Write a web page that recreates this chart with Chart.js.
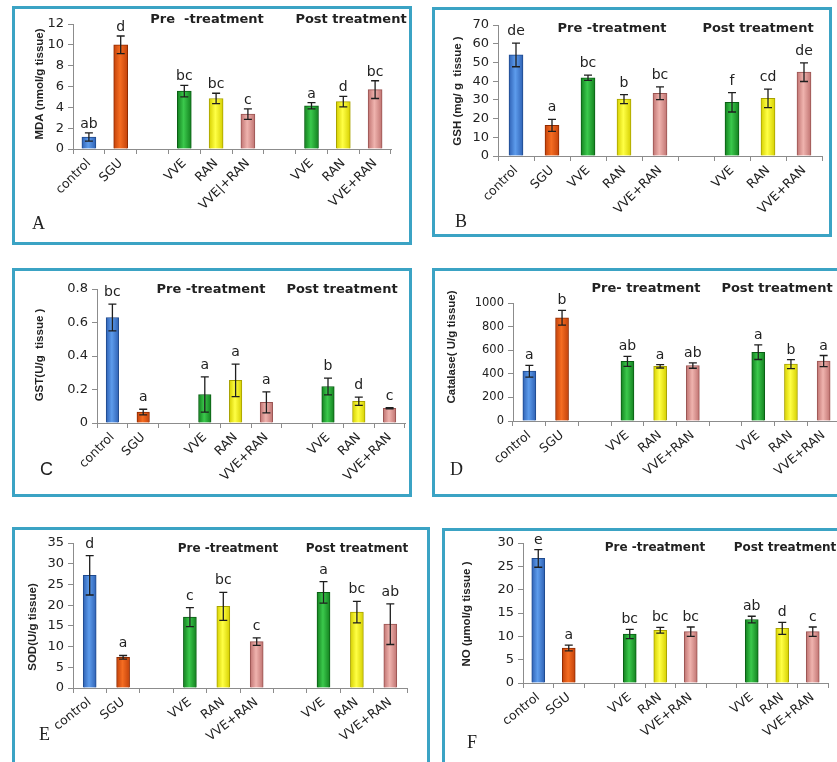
<!DOCTYPE html>
<html>
<head>
<meta charset="utf-8">
<script src="https://cdn.jsdelivr.net/npm/chart.js@4"></script>
<style>
  body { margin: 0; width: 837px; height: 762px; overflow: hidden; background: #fff; position: relative; }
  .box { position: absolute; border: 3px solid #3ba3c4; box-sizing: border-box; }
  canvas { position: absolute; }
</style>
</head>
<body>
<script>
// categories (empty strings are the gaps between groups)
const categories = ["control", "SGU", "", "VVE", "RAN", "VVE+RAN", "", "VVE", "RAN", "VVE+RAN"];
const categoriesA = ["control", "SGU", "", "VVE", "RAN", "VVE|+RAN", "", "VVE", "RAN", "VVE+RAN"];
const categoriesB = ["control", "SGU", "VVE", "RAN", "VVE+RAN", "", "VVE", "RAN", "VVE+RAN"];
const groups = ["control", "SGU", null, "VVE", "RAN", "MIX", null, "VVE", "RAN", "MIX"];
const groupsB = ["control", "SGU", "VVE", "RAN", "MIX", null, "VVE", "RAN", "MIX"];

// A - MDA
const mdaMean = [1.15, 10.0, null, 5.55, 4.85, 3.35, null, 4.15, 4.55, 5.7];
const mdaErr = [0.4, 0.85, null, 0.55, 0.5, 0.5, null, 0.3, 0.5, 0.85];
const mdaSig = ["ab", "d", "", "bc", "bc", "c", "", "a", "d", "bc"];
const mdaTicks = [0, 2, 4, 6, 8, 10, 12];

// B - GSH
const gshMean = [54, 16.4, 41.8, 30.4, 33.5, null, 28.7, 30.8, 44.8];
const gshErr = [6.3, 3.2, 1.4, 2.4, 3.4, null, 5.2, 4.9, 5];
const gshSig = ["de", "a", "bc", "b", "bc", "", "f", "cd", "de"];
const gshTicks = [0, 10, 20, 30, 40, 50, 60, 70];

// C - GST
const gstMean = [0.63, 0.065, null, 0.17, 0.255, 0.123, null, 0.218, 0.13, 0.088];
const gstErr = [0.08, 0.017, null, 0.105, 0.097, 0.063, null, 0.05, 0.025, 0.004];
const gstSig = ["bc", "a", "", "a", "a", "a", "", "b", "d", "c"];
const gstTicks = [0, 0.1, 0.2, 0.3, 0.4, 0.5, 0.6, 0.7, 0.8];

// D - Catalase
const catMean = [422, 875, null, 505, 463, 470, null, 583, 482, 508];
const catErr = [50, 63, null, 42, 14, 23, null, 62, 38, 47];
const catSig = ["a", "b", "", "ab", "a", "ab", "", "a", "b", "a"];
const catTicks = [0, 200, 400, 600, 800, 1000];

// E - SOD
const sodMean = [27.2, 7.4, null, 17.1, 19.7, 11.2, null, 23.1, 18.3, 15.4];
const sodErr = [4.75, 0.45, null, 2.3, 3.4, 0.9, null, 2.6, 2.6, 4.9];
const sodSig = ["d", "a", "", "c", "bc", "c", "", "a", "bc", "ab"];
const sodTicks = [0, 5, 10, 15, 20, 25, 30, 35];

// F - NO
const noMean = [26.7, 7.5, null, 10.5, 11.3, 11.0, null, 13.6, 11.7, 11.0];
const noErr = [1.9, 0.6, null, 1.0, 0.6, 1.0, null, 0.7, 1.3, 1.0];
const noSig = ["e", "a", "", "bc", "bc", "bc", "", "ab", "d", "c"];
const noTicks = [0, 5, 10, 15, 20, 25, 30];

// [border, edge, highlight]
const palette = {
  control: ["#1f4a8e", "#2f62b5", "#5d9cec"],
  SGU: ["#8f2a00", "#c4420a", "#f56d22"],
  VVE: ["#0a5e14", "#13811f", "#3bc94c"],
  RAN: ["#a8a200", "#d6d000", "#ffff45"],
  MIX: ["#9a5452", "#c07371", "#efb3ae"],
};

const Y_W = 44, X_H = 60;

function drawPanel(chart, p) {
  const ctx = chart.ctx;
  const ys = chart.scales.y;
  const meta = chart.getDatasetMeta(0);
  const ox = p.box[0], oy = p.box[1];
  ctx.save();
  meta.data.forEach((bar, i) => {
    const v = p.mean[i];
    if (v == null) return;
    const e = p.err[i];
    const top = ys.getPixelForValue(v + e), bot = ys.getPixelForValue(v - e);
    ctx.strokeStyle = "#1e1e1e";
    ctx.lineWidth = 1.3;
    ctx.beginPath();
    ctx.moveTo(bar.x, top); ctx.lineTo(bar.x, bot);
    ctx.moveTo(bar.x - 4, top); ctx.lineTo(bar.x + 4, top);
    ctx.moveTo(bar.x - 4, bot); ctx.lineTo(bar.x + 4, bot);
    ctx.stroke();
    ctx.fillStyle = "#222";
    ctx.font = '14px "DejaVu Sans"';
    ctx.textAlign = "center";
    ctx.textBaseline = "alphabetic";
    ctx.fillText(p.sig[i], bar.x, top - p.gap);
  });

  // group titles
  ctx.fillStyle = "#222";
  ctx.font = "bold " + p.titleSize + 'px "DejaVu Sans"';
  ctx.textAlign = "center";
  ctx.textBaseline = "middle";
  ctx.fillText(p.pre, p.prePos[0] - ox, p.prePos[1] - oy);
  ctx.fillText("Post treatment", p.postPos[0] - ox, p.postPos[1] - oy);

  // y title
  ctx.save();
  ctx.translate(p.yTitlePos[0] - ox, p.yTitlePos[1] - oy);
  ctx.rotate(-Math.PI / 2);
  ctx.font = 'bold 11.5px "Liberation Sans"';
  ctx.fillText(p.yTitle, 0, 0);
  ctx.restore();

  // panel letter
  ctx.font = p.letterSerif ? '18px "Liberation Serif"' : '18px "Liberation Sans"';
  ctx.textAlign = "left";
  ctx.textBaseline = "top";
  ctx.fillText(p.letter, p.letterPos[0] - ox, p.letterPos[1] - oy);
  ctx.restore();
}

function makePanel(p) {
  const [bx, by, bw, bh] = p.box;
  const [al, at, ar, ab] = p.area;
  const div = document.createElement("div");
  div.className = "box";
  Object.assign(div.style, { left: bx + "px", top: by + "px", width: bw + "px", height: bh + "px" });
  document.body.appendChild(div);
  const cv = document.createElement("canvas");
  cv.width = bw; cv.height = bh;
  Object.assign(cv.style, { left: bx + "px", top: by + "px", width: bw + "px", height: bh + "px" });
  document.body.appendChild(cv);

  const fill = (c) => {
    const g = p.groups[c.dataIndex];
    if (!g) return "rgba(0,0,0,0)";
    const [, dark, light] = palette[g];
    const ch = c.chart;
    if (!ch.chartArea || !ch.scales.x) return light;
    const x = ch.scales.x.getPixelForValue(c.dataIndex), h = p.barW / 2;
    const gr = ch.ctx.createLinearGradient(x - h, 0, x + h, 0);
    gr.addColorStop(0, dark);
    gr.addColorStop(0.45, light);
    gr.addColorStop(1, dark);
    return gr;
  };
  const edge = (c) => {
    const g = p.groups[c.dataIndex];
    return g ? palette[g][0] : "rgba(0,0,0,0)";
  };

  new Chart(cv, {
    type: "bar",
    data: {
      labels: p.labels,
      datasets: [{ data: p.mean, backgroundColor: fill, borderColor: edge, borderWidth: 1, barThickness: p.barW }],
    },
    options: {
      responsive: false,
      animation: false,
      devicePixelRatio: 1,
      layout: { padding: { left: al - bx - Y_W, top: at - by, right: bx + bw - ar, bottom: by + bh - ab - X_H } },
      plugins: { legend: { display: false }, tooltip: { enabled: false } },
      scales: {
        x: {
          grid: { offset: true, drawOnChartArea: false, tickLength: 5, color: "#8c8c8c" },
          border: { color: "#8c8c8c" },
          ticks: {
            autoSkip: false, minRotation: p.rot, maxRotation: p.rot, padding: 2,
            color: "#222", font: { family: "DejaVu Sans", size: 12.5 },
          },
          afterFit(s) { s.height = X_H; s.paddingLeft = 0; s.paddingRight = 0; },
        },
        y: {
          min: 0,
          max: p.ticks[p.ticks.length - 1],
          grid: { drawOnChartArea: false, tickLength: 5, color: "#8c8c8c" },
          border: { color: "#8c8c8c" },
          ticks: {
            padding: 4, color: "#222", font: { family: "DejaVu Sans", size: p.tickSize },
            callback: (v) => String(+v.toFixed(3)),
          },
          afterBuildTicks(s) { s.ticks = p.ticks.map((v) => ({ value: v })); },
          afterFit(s) { s.width = Y_W; s.paddingTop = 0; s.paddingBottom = 0; },
        },
      },
    },
    plugins: [{ id: "panelText", afterDraw(chart) { drawPanel(chart, p); } }],
  });
}

makePanel({
  box: [12, 6, 400, 239], area: [73, 24, 391, 149],
  labels: categoriesA, groups: groups, mean: mdaMean, err: mdaErr, sig: mdaSig, ticks: mdaTicks,
  yTitle: "MDA (nmol/g tissue)", yTitlePos: [40, 84],
  pre: "Pre  -treatment", prePos: [207, 20], postPos: [351, 20], titleSize: 13,
  letter: "A", letterPos: [32, 215], letterSerif: true,
  tickSize: 13, rot: 45, barW: 14, gap: 5,
});

makePanel({
  box: [432, 7, 400, 230], area: [498, 25, 822, 156],
  labels: categoriesB, groups: groupsB, mean: gshMean, err: gshErr, sig: gshSig, ticks: gshTicks,
  yTitle: "GSH (mg/ g  tissue )", yTitlePos: [458, 91],
  pre: "Pre -treatment", prePos: [612, 29], postPos: [758, 29], titleSize: 13,
  letter: "B", letterPos: [455, 213], letterSerif: true,
  tickSize: 13, rot: 45, barW: 14, gap: 8,
});

makePanel({
  box: [12, 268, 400, 229], area: [97, 289, 405, 423],
  labels: categories, groups: groups, mean: gstMean, err: gstErr, sig: gstSig, ticks: gstTicks,
  yTitle: "GST(U/g  tissue )", yTitlePos: [40, 355],
  pre: "Pre -treatment", prePos: [211, 290], postPos: [342, 290], titleSize: 13,
  letter: "C", letterPos: [40, 461], letterSerif: false,
  tickSize: 13, rot: 45, barW: 12.5, gap: 8,
});

makePanel({
  box: [432, 268, 420, 229], area: [513, 303, 840, 421],
  labels: categories, groups: groups, mean: catMean, err: catErr, sig: catSig, ticks: catTicks,
  yTitle: "Catalase( U/g tissue)", yTitlePos: [452, 347],
  pre: "Pre- treatment", prePos: [646, 289], postPos: [777, 289], titleSize: 13,
  letter: "D", letterPos: [450, 461], letterSerif: true,
  tickSize: 11.5, rot: 40, barW: 13, gap: 6,
});

makePanel({
  box: [12, 527, 418, 250], area: [73, 543, 407, 688],
  labels: categories, groups: groups, mean: sodMean, err: sodErr, sig: sodSig, ticks: sodTicks,
  yTitle: "SOD(U/g tissue)", yTitlePos: [33, 627],
  pre: "Pre -treatment", prePos: [228, 549], postPos: [357, 549], titleSize: 12,
  letter: "E", letterPos: [39, 726], letterSerif: true,
  tickSize: 13, rot: 38, barW: 13, gap: 8,
});

makePanel({
  box: [442, 528, 420, 250], area: [523, 543, 828, 683],
  labels: categories, groups: groups, mean: noMean, err: noErr, sig: noSig, ticks: noTicks,
  yTitle: "NO (µmol/g tissue )", yTitlePos: [467, 614],
  pre: "Pre -treatment", prePos: [655, 548], postPos: [785, 548], titleSize: 12,
  letter: "F", letterPos: [467, 734], letterSerif: true,
  tickSize: 13, rot: 39, barW: 13, gap: 6,
});
</script>
</body>
</html>
